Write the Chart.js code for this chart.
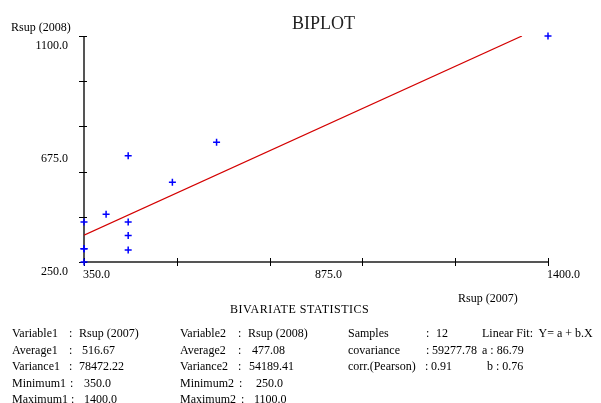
<!DOCTYPE html>
<html>
<head>
<meta charset="utf-8">
<script src="https://cdn.jsdelivr.net/npm/chart.js@4/dist/chart.umd.min.js"></script>
<style>
  body { margin: 0; background: #fff; }
  #wrap { position: relative; width: 601px; height: 403px; overflow: hidden; }
  canvas { position: absolute; left: 0; top: 0; }
  .t { position: absolute; font-family: "Liberation Serif", "Times New Roman", serif; font-size: 12px; color: #000; white-space: pre; line-height: 1; }
  #title { font-size: 18px; color: #222; left: 292px; top: 14px; }
  #stitle { left: 230px; top: 303px; letter-spacing: 0.5px; }
</style>
</head>
<body>
<div id="wrap">
  <canvas id="biplot" width="601" height="403"></canvas>
  <div class="t" id="title">BIPLOT</div>
  <div class="t" id="stitle">BIVARIATE STATISTICS</div>
</div>
<script>
// data
const xVals = [350, 350, 350, 350, 400, 450, 450, 450, 450, 550, 650, 1400];
const yVals = [250, 300, 300, 400, 430, 295, 350, 400, 650, 550, 700, 1100];
const fitX = [350, 1341];
const fitY = [351, 1100];

const xTicks = [350, 560, 770, 980, 1190, 1400];
const yTicks = [250, 420, 590, 760, 930, 1100];
const xLabels = [350, 875, 1400];
const yLabels = [250, 675, 1100];
const xTitle = 'Rsup (2007)';
const yTitle = 'Rsup (2008)';

// statistics block
const names1 = ['Variable1', 'Average1', 'Variance1', 'Minimum1', 'Maximum1'];
const values1 = ['Rsup (2007)', '516.67', '78472.22', '350.0', '1400.0'];
const names2 = ['Variable2', 'Average2', 'Variance2', 'Minimum2', 'Maximum2'];
const values2 = ['Rsup (2008)', '477.08', '54189.41', '250.0', '1100.0'];
const names3 = ['Samples', 'covariance', 'corr.(Pearson)'];
const values3 = ['12', '59277.78', '0.91'];
const fitLines = ['Linear Fit:  Y= a + b.X', 'a : 86.79', 'b : 0.76'];

const wrap = document.getElementById('wrap');
const rowTop = 327, rowStep = 16.6;
function addText(txt, left, row) {
    const d = document.createElement('div');
    d.className = 't';
    d.textContent = txt;
    d.style.left = left + 'px';
    d.style.top = (rowTop + row * rowStep) + 'px';
    wrap.appendChild(d);
}
function addColumn(names, values, nameX, colonX, valueX) {
    names.forEach((n, i) => {
        addText(n, nameX, i);
        addText(':', colonX[i], i);
        addText(values[i], valueX[i], i);
    });
}
addColumn(names1, values1, 12, [69, 69, 69, 70, 71], [79, 82, 79, 84, 84]);
addColumn(names2, values2, 180, [238, 238, 238, 239, 241], [248, 252, 249, 256, 254]);
addColumn(names3, values3, 348, [426, 426, 425], [436, 432, 431]);
addText(fitLines[0], 482, 0);
addText(fitLines[1], 482, 1);
addText(fitLines[2], 487, 2);

const axesPlugin = {
    id: 'axes',
    beforeDatasetsDraw(chart) {
        const ctx = chart.ctx;
        const xs = chart.scales.x, ys = chart.scales.y;
        const x0 = xs.getPixelForValue(xs.min);
        const y0 = ys.getPixelForValue(ys.min);
        ctx.save();
        // axis lines
        ctx.strokeStyle = '#555';
        ctx.lineWidth = 2;
        ctx.beginPath();
        ctx.moveTo(x0, ys.getPixelForValue(ys.max));
        ctx.lineTo(x0, y0);
        ctx.lineTo(xs.getPixelForValue(xs.max), y0);
        ctx.stroke();
        // tick marks
        ctx.strokeStyle = '#000';
        ctx.lineWidth = 1;
        ctx.beginPath();
        xTicks.forEach(v => {
            const px = Math.round(xs.getPixelForValue(v)) + 0.5;
            ctx.moveTo(px, y0 - 4);
            ctx.lineTo(px, y0 + 4);
        });
        yTicks.forEach(v => {
            const py = Math.round(ys.getPixelForValue(v)) + 0.5;
            ctx.moveTo(x0 - 5, py);
            ctx.lineTo(x0 + 3, py);
        });
        ctx.stroke();
        // labels
        ctx.fillStyle = '#000';
        ctx.font = '12px "Liberation Serif", serif';
        ctx.textBaseline = 'middle';
        ctx.textAlign = 'left';
        xLabels.forEach(v => ctx.fillText(v.toFixed(1), xs.getPixelForValue(v) - 1, y0 + 13));
        ctx.textAlign = 'right';
        yLabels.forEach(v => ctx.fillText(v.toFixed(1), 68, ys.getPixelForValue(v) + 10));
        ctx.textAlign = 'left';
        ctx.fillText(yTitle, 11, 28);
        ctx.fillText(xTitle, 458, 299);
        ctx.restore();
    }
};

new Chart(document.getElementById('biplot'), {
    type: 'scatter',
    data: {
        datasets: [
            {
                label: 'fit',
                type: 'line',
                data: fitX.map((x, i) => ({ x: x, y: fitY[i] })),
                borderColor: '#d40000',
                borderWidth: 1.2,
                pointRadius: 0,
                fill: false
            },
            {
                label: 'samples',
                data: xVals.map((x, i) => ({ x: x, y: yVals[i] })),
                pointStyle: 'cross',
                pointRadius: 3.5,
                borderColor: '#0000ff',
                borderWidth: 1.5,
                clip: false
            }
        ]
    },
    options: {
        responsive: false,
        animation: false,
        layout: { padding: { left: 84, top: 36, right: 53, bottom: 141 } },
        plugins: { legend: { display: false }, tooltip: { enabled: false } },
        scales: {
            x: { type: 'linear', min: 350, max: 1400, display: false },
            y: { type: 'linear', min: 250, max: 1100, display: false }
        }
    },
    plugins: [axesPlugin]
});
</script>
</body>
</html>
